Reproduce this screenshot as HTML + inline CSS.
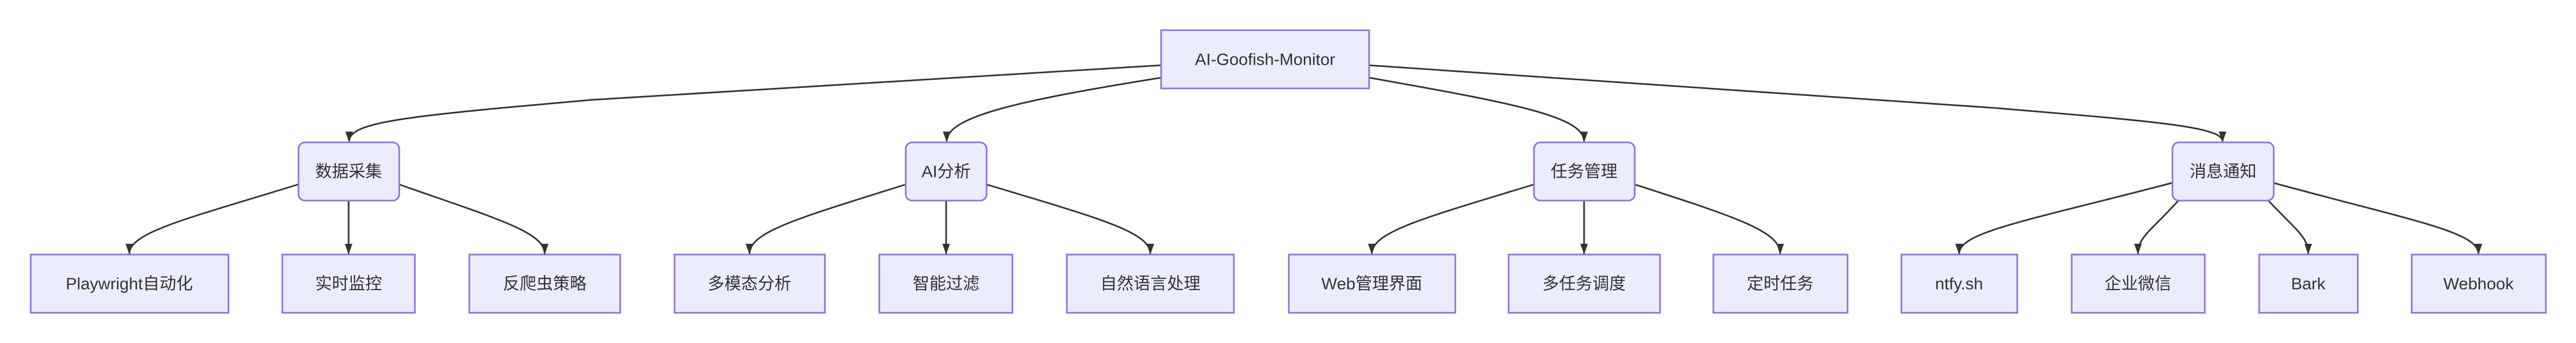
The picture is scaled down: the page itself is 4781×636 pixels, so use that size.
<!DOCTYPE html>
<html><head><meta charset="utf-8"><style>
html,body{margin:0;padding:0;background:#fff;}
svg{display:block;}
text{font-family:"Liberation Sans","Noto Sans CJK SC",sans-serif;font-size:31px;fill:#333;text-anchor:middle;dominant-baseline:central;}
.n{fill:#ECECFF;stroke:#9370DB;stroke-width:3;}
.e{fill:none;stroke:#333;stroke-width:3;}
</style></head><body>
<svg width="4781" height="636" viewBox="0 0 4781 636" xmlns="http://www.w3.org/2000/svg">
<defs>
<marker id="a" markerUnits="userSpaceOnUse" markerWidth="14" markerHeight="20" refX="7" refY="20" orient="auto" viewBox="0 0 14 20">
<path d="M0,0 L14,0 L7,20 z" fill="#333" transform="rotate(0)"/>
</marker>
</defs>
<g>
<!-- root edges -->
<path class="e" d="M2155,121 L1100,185 C760,215 648,225 648,262" marker-end="url(#b)"/>
<path class="e" d="M2155,144 C1900,185 1757,215 1757,262"/>
<path class="e" d="M2541,144 C2800,190 2940,215 2940,262"/>
<path class="e" d="M2541,121 L3700,200 C4000,225 4125,235 4125,262"/>
<!-- level 2 edges -->
<path class="e" d="M553,342 C350,405 240,430 240,471"/>
<path class="e" d="M647,372 L647,471"/>
<path class="e" d="M741,342 C920,405 1011,430 1011,471"/>
<path class="e" d="M1681,342 C1480,405 1391,430 1391,471"/>
<path class="e" d="M1756,372 L1756,471"/>
<path class="e" d="M1831,342 C2040,405 2135,430 2135,471"/>
<path class="e" d="M2847,342 C2640,405 2546,430 2546,471"/>
<path class="e" d="M2940,372 L2940,471"/>
<path class="e" d="M3034,342 C3230,405 3304,430 3304,471"/>
<path class="e" d="M4032,339 C3760,410 3636,430 3636,471"/>
<path class="e" d="M4043,372 C3990,430 3968,440 3968,471"/>
<path class="e" d="M4210,372 C4265,430 4284,440 4284,471"/>
<path class="e" d="M4219,339 C4480,410 4600,430 4600,471"/>
</g>
<g fill="#333">
<path d="M641,244 L655,244 L648,264 z"/>
<path d="M1750,244 L1764,244 L1757,264 z"/>
<path d="M2933,244 L2947,244 L2940,264 z"/>
<path d="M4118,244 L4132,244 L4125,264 z"/>
<path d="M233,452 L247,452 L240,472 z"/>
<path d="M640,452 L654,452 L647,472 z"/>
<path d="M1004,452 L1018,452 L1011,472 z"/>
<path d="M1384,452 L1398,452 L1391,472 z"/>
<path d="M1749,452 L1763,452 L1756,472 z"/>
<path d="M2128,452 L2142,452 L2135,472 z"/>
<path d="M2539,452 L2553,452 L2546,472 z"/>
<path d="M2933,452 L2947,452 L2940,472 z"/>
<path d="M3297,452 L3311,452 L3304,472 z"/>
<path d="M3629,452 L3643,452 L3636,472 z"/>
<path d="M3961,452 L3975,452 L3968,472 z"/>
<path d="M4277,452 L4291,452 L4284,472 z"/>
<path d="M4593,452 L4607,452 L4600,472 z"/>
</g>
<!-- nodes -->
<rect class="n" x="2155" y="56" width="386" height="108"/>
<text x="2348" y="110">AI-Goofish-Monitor</text>

<rect class="n" x="554" y="264" width="187" height="108" rx="12"/>
<text x="647" y="318">数据采集</text>
<rect class="n" x="1681" y="264" width="150" height="108" rx="12"/>
<text x="1756" y="318">AI分析</text>
<rect class="n" x="2847" y="264" width="187" height="108" rx="12"/>
<text x="2940" y="318">任务管理</text>
<rect class="n" x="4032" y="264" width="188" height="108" rx="12"/>
<text x="4126" y="318">消息通知</text>

<rect class="n" x="57" y="472" width="367" height="108"/>
<text x="240" y="526">Playwright自动化</text>
<rect class="n" x="524" y="472" width="246" height="108"/>
<text x="647" y="526">实时监控</text>
<rect class="n" x="871" y="472" width="280" height="108"/>
<text x="1011" y="526">反爬虫策略</text>
<rect class="n" x="1252" y="472" width="279" height="108"/>
<text x="1391" y="526">多模态分析</text>
<rect class="n" x="1632" y="472" width="247" height="108"/>
<text x="1756" y="526">智能过滤</text>
<rect class="n" x="1980" y="472" width="310" height="108"/>
<text x="2135" y="526">自然语言处理</text>
<rect class="n" x="2392" y="472" width="309" height="108"/>
<text x="2546" y="526">Web管理界面</text>
<rect class="n" x="2800" y="472" width="281" height="108"/>
<text x="2940" y="526">多任务调度</text>
<rect class="n" x="3180" y="472" width="249" height="108"/>
<text x="3304" y="526">定时任务</text>
<rect class="n" x="3529" y="472" width="215" height="108"/>
<text x="3636" y="526">ntfy.sh</text>
<rect class="n" x="3845" y="472" width="247" height="108"/>
<text x="3968" y="526">企业微信</text>
<rect class="n" x="4193" y="472" width="183" height="108"/>
<text x="4284" y="526">Bark</text>
<rect class="n" x="4476" y="472" width="249" height="108"/>
<text x="4600" y="526">Webhook</text>
</svg>
</body></html>
